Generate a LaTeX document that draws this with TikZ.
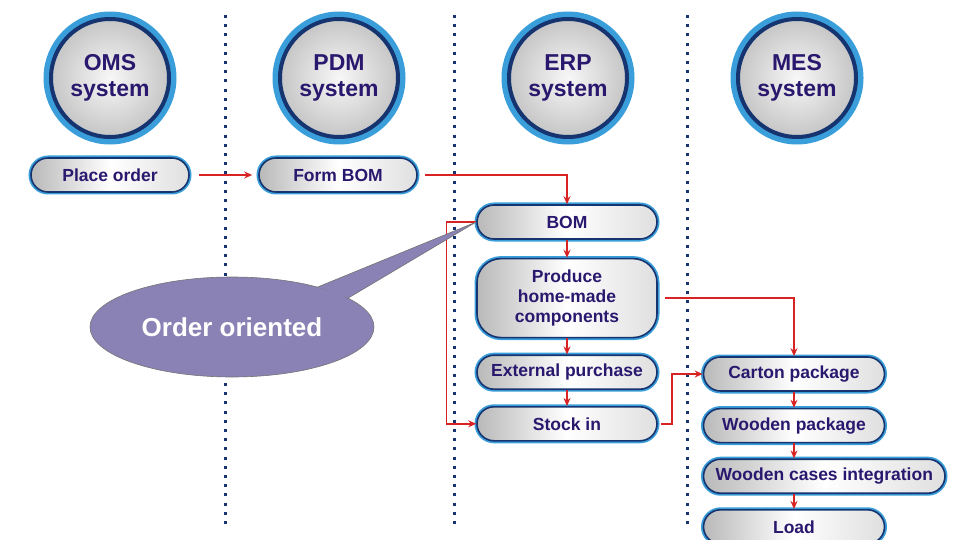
\documentclass[tikz,border=0pt]{standalone}
\usepackage{fontspec}
\setmainfont{Liberation Sans}
\usepackage{xcolor}
\usetikzlibrary{arrows.meta,positioning,shapes.geometric}
\definecolor{ringblue}{RGB}{58,158,218}
\definecolor{ringnavy}{RGB}{22,52,112}
\definecolor{txtnavy}{RGB}{42,24,110}
\definecolor{arrred}{RGB}{215,35,35}
\definecolor{callout}{RGB}{138,130,180}

\begin{document}
\begin{tikzpicture}[
  x=1pt, y=1pt,
  font=\bfseries\fontsize{17.5}{20}\selectfont,
  sys/.style={circle, minimum size=118pt, inner sep=0pt, draw=ringnavy, line width=4pt,
              inner color=gray!6, outer color=gray!45, text=txtnavy, align=center,
              font=\bfseries\fontsize{23}{26}\selectfont,
              preaction={draw=ringblue, line width=15pt}},
  task/.style={rounded corners=17pt, minimum width=180pt, minimum height=34pt,
               inner xsep=12pt, inner ysep=2pt, draw=ringnavy, line width=1.6pt,
               left color=gray!55, right color=gray!25, middle color=white,
               text=txtnavy, align=center,
               preaction={draw=ringblue, line width=5pt}},
  arr/.style={-{Stealth[length=8pt, width=7pt]}, draw=arrred, line width=1.4pt},
  sep/.style={draw=ringnavy, line width=3pt, dash pattern=on 3pt off 6.2pt},
  note/.style={ellipse, minimum width=284pt, minimum height=100pt, fill=callout,
               draw=black!55, line width=0.6pt, text=white,
               font=\bfseries\fontsize{26}{28}\selectfont}
]
\useasboundingbox (0,0) rectangle (969,-540);
% --- lane separators ---
\foreach \x in {225,454,687}
  \draw[sep] (\x,-15) -- (\x,-525);
% --- systems ---
\node[sys] (oms) at (110,-78) {OMS\\system};
\node[sys] (pdm) at (339,-78) {PDM\\system};
\node[sys] (erp) at (568,-78) {ERP\\system};
\node[sys] (mes) at (797,-78) {MES\\system};
% --- tasks ---
\node[task, minimum width=158pt] (place) at (110,-175) {Place order};
\node[task, minimum width=158pt] (fbom) at (338,-175) {Form BOM};
\node[task] (bom) at (567,-222) {BOM};
\node[task, rounded corners=24pt, minimum height=79pt, below=18pt of bom] (prod) {Produce\\home-made\\components};
\node[task, below=16pt of prod] (ext) {External purchase};
\node[task, below=16pt of ext] (stock) {Stock in};
\node[task, minimum width=181pt] (carton) at (794,-374) {Carton package};
\node[task, minimum width=181pt, below=16pt of carton] (wood) {Wooden package};
\node[task, below=15pt of wood.south west, anchor=north west] (cases) {Wooden cases integration};
\node[task, minimum width=181pt, below=15pt of cases.south west, anchor=north west] (load) {Load};
% --- arrows ---
\draw[arr, shorten <=9pt, shorten >=6pt] (place) -- (fbom);
\draw[arr, shorten <=7pt] (fbom.east) -| (bom.north);
\draw[arr] (bom) -- (prod);
\draw[arr] (prod) -- (ext);
\draw[arr] (ext) -- (stock);
\draw[arr] (bom.west) -- ++(-30,0) |- (stock.west);
\draw[arr, shorten <=7pt] (prod.east) -| (carton.north);
\draw[arr, shorten <=3pt] (stock.east) -- ++(14,0) |- (carton.west);
\draw[arr] (carton) -- (wood);
\draw[arr] (wood) -- (wood |- cases.north);
\draw[arr] (cases.south -| load.north) -- (load);
% --- callout ---
\node[note] (ori) at (232,-327) {Order oriented};
\path[fill=callout] (ori.25) -- (bom.west) -- (ori.14) -- cycle;
\draw[black!55, line width=0.6pt] (ori.25) -- (bom.west) -- (ori.14);
\end{tikzpicture}
\end{document}
